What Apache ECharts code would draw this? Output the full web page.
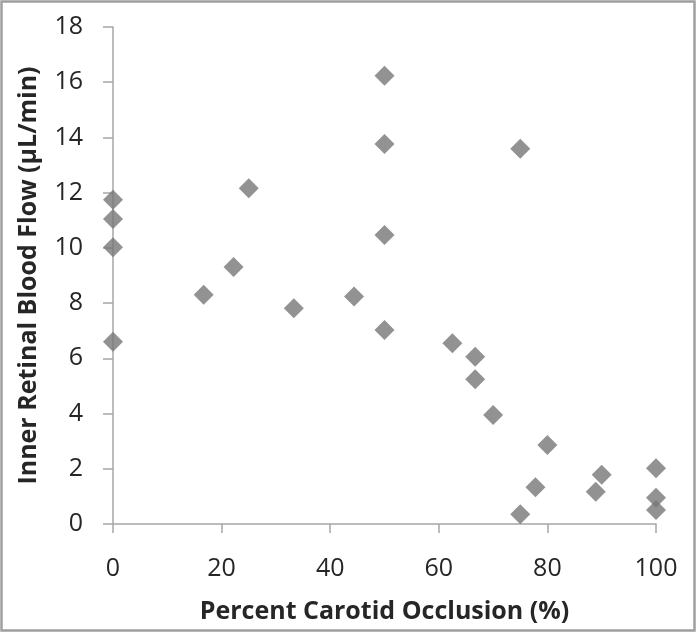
<!DOCTYPE html>
<html>
<head>
<meta charset="utf-8">
<script src="https://cdn.jsdelivr.net/npm/echarts@6/dist/echarts.min.js"></script>
<style>
html,body{margin:0;padding:0;background:#fff;}
#c{width:696px;height:632px;}
</style>
</head>
<body>
<div id="c"></div>
<script>
const occlusion = [0, 0, 0, 0, 16.7, 22.2, 25, 33.3, 44.4, 50, 50, 50, 50, 62.5, 66.7, 66.7, 70, 75, 75, 77.8, 80, 88.9, 90, 100, 100, 100];
const flow = [11.74, 11.05, 10.02, 6.6, 8.3, 9.31, 12.16, 7.81, 8.24, 16.23, 13.76, 10.47, 7.03, 6.55, 6.06, 5.24, 3.95, 13.59, 0.35, 1.33, 2.86, 1.17, 1.78, 2.02, 0.95, 0.51];
const xTicks = [0, 20, 40, 60, 80, 100];
const yTicks = [0, 2, 4, 6, 8, 10, 12, 14, 16, 18];

const chart = echarts.init(document.getElementById('c'), null, {renderer: 'canvas'});
const points = occlusion.map((x, i) => [x, flow[i]]);
const axisColor = '#a6a6a6';
const textColor = '#262626';
const font = 'Open Sans';

chart.setOption({
  animation: false,
  backgroundColor: '#fff',
  graphic: [{
    type: 'rect',
    shape: {x: 1.5, y: 1.5, width: 693, height: 629},
    style: {fill: 'none', stroke: '#a0a0a0', lineWidth: 2.5},
    silent: true
  }],
  grid: {left: 113, right: 40, top: 27, bottom: 108},
  xAxis: {
    type: 'value',
    min: xTicks[0], max: xTicks[xTicks.length - 1], interval: 20,
    name: 'Percent Carotid Occlusion (%)',
    nameLocation: 'middle',
    nameGap: 75,
    nameTextStyle: {fontFamily: font, fontWeight: 'bold', fontSize: 25, color: textColor},
    axisLine: {lineStyle: {color: axisColor, width: 1.5}},
    axisTick: {show: true, length: 9, lineStyle: {color: axisColor, width: 1.5}},
    axisLabel: {fontFamily: font, fontSize: 25, color: textColor, margin: 32},
    splitLine: {show: false}
  },
  yAxis: {
    type: 'value',
    min: yTicks[0], max: yTicks[yTicks.length - 1], interval: 2,
    name: 'Inner Retinal Blood Flow (\u00b5L/min)',
    nameLocation: 'middle',
    nameGap: 72,
    nameRotate: 90,
    nameTextStyle: {fontFamily: font, fontWeight: 'bold', fontSize: 25, color: textColor},
    axisLine: {show: true, lineStyle: {color: axisColor, width: 1.5}},
    axisTick: {show: true, length: 10, lineStyle: {color: axisColor, width: 1.5}},
    axisLabel: {fontFamily: font, fontSize: 25, color: textColor, margin: 30},
    splitLine: {show: false}
  },
  series: [{
    type: 'scatter',
    data: points,
    symbol: 'diamond',
    symbolSize: [20, 20],
    itemStyle: {color: '#777777'}
  }]
});
</script>
</body>
</html>
